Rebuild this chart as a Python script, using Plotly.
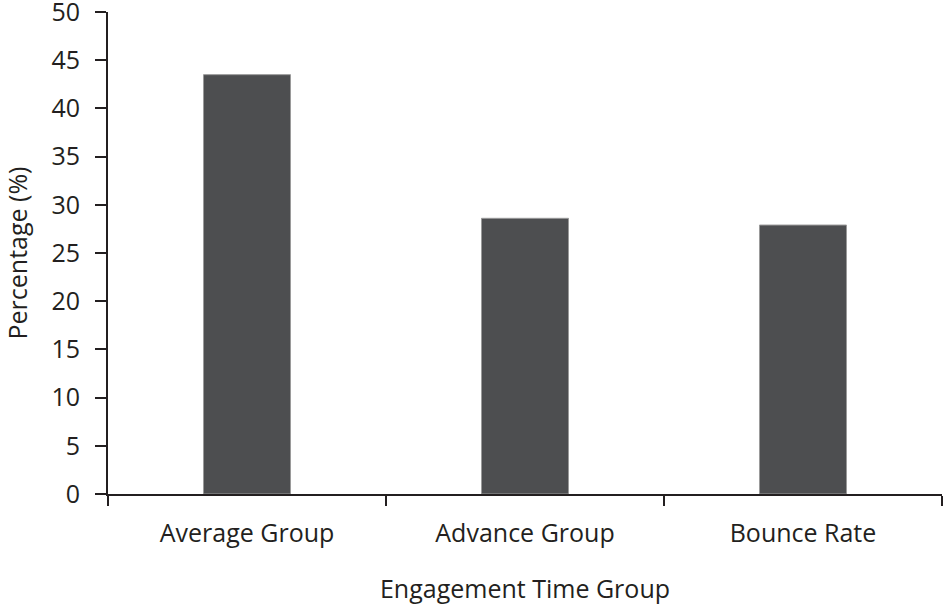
import plotly.graph_objects as go

# Engagement time groups and their share (%)
groups = ['Average Group', 'Advance Group', 'Bounce Rate']
percentages = [43.5, 28.6, 27.9]

y_ticks = list(range(0, 51, 5))

axis_color = '#231f20'
bar_color = '#4d4e50'
text_font = dict(family='Open Sans', size=25, color=axis_color)

fig = go.Figure()

fig.add_trace(go.Bar(
    x=groups,
    y=percentages,
    marker=dict(color=bar_color, line=dict(color='#9a9a9a', width=1)),
    showlegend=False
))

fig.update_layout(
    width=944,
    height=605,
    margin=dict(l=108, r=2, t=12, b=111),
    plot_bgcolor='white',
    paper_bgcolor='white',
    bargap=0.687,
    font=text_font,
    xaxis=dict(
        title=dict(text='Engagement Time Group', font=text_font, standoff=32),
        range=[-0.5, 2.5],
        automargin=False,
        showline=True,
        linecolor=axis_color,
        linewidth=2,
        ticks='outside',
        tickson='boundaries',
        ticklen=10,
        tickwidth=2,
        tickcolor=axis_color,
        tickfont=text_font,
        ticklabelstandoff=16,
        ticklabeloverflow='allow',
        showgrid=False,
        zeroline=False
    ),
    yaxis=dict(
        title=dict(text='Percentage (%)', font=text_font, standoff=27),
        range=[0, 50],
        automargin=False,
        tickmode='array',
        tickvals=y_ticks,
        ticktext=[str(v) for v in y_ticks],
        showline=True,
        linecolor=axis_color,
        linewidth=2,
        ticks='outside',
        ticklen=11,
        tickwidth=2,
        tickcolor=axis_color,
        tickfont=text_font,
        ticklabelstandoff=10,
        ticklabeloverflow='allow',
        showgrid=False,
        zeroline=False
    )
)

# drop the default 8px page margin so the figure fills the window
fig.write_html('out.html', config={'displayModeBar': False},
               post_script="document.body.style.margin = '0';")
